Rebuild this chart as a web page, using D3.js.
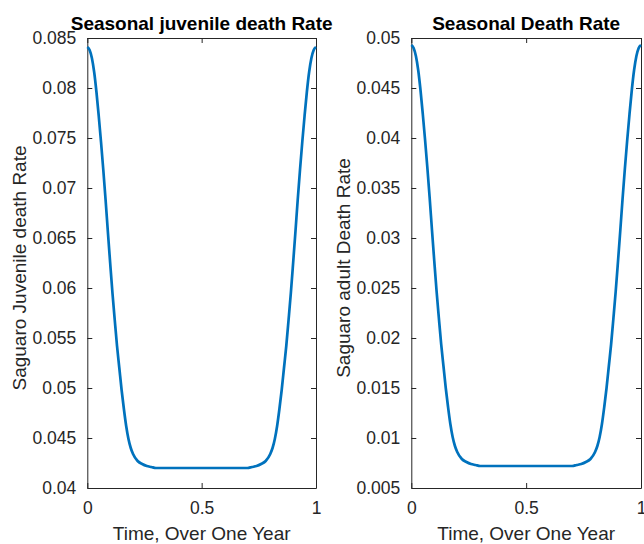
<!DOCTYPE html>
<html>
<head>
<meta charset="utf-8">
<script src="https://cdn.jsdelivr.net/npm/d3@7"></script>
<style>
  body { margin: 0; background: #fff; }
  svg { display: block; font-family: "Liberation Sans", Arial, Helvetica, sans-serif; }
  .axis path, .axis line { stroke: #262626; }
  .axis text { fill: #262626; font-size: 17.5px; }
</style>
</head>
<body>
<svg id="chart" width="644" height="544"></svg>
<script>
// time over one year
const time = [0, 0.01, 0.02, 0.03, 0.04, 0.05, 0.06, 0.07, 0.08, 0.09, 0.10, 0.11, 0.12, 0.13, 0.14,
  0.15, 0.16, 0.17, 0.18, 0.19, 0.20, 0.22, 0.24, 0.26, 0.28, 0.30, 0.35, 0.40, 0.45, 0.50,
  0.55, 0.60, 0.65, 0.70, 0.72, 0.74, 0.76, 0.78, 0.80, 0.81, 0.82, 0.83, 0.84, 0.85, 0.86,
  0.87, 0.88, 0.89, 0.90, 0.91, 0.92, 0.93, 0.94, 0.95, 0.96, 0.97, 0.98, 0.99, 1.00];

const juvenileRate = [0.0841, 0.0838, 0.0830, 0.0816, 0.0796, 0.0772, 0.0746, 0.0718, 0.0688, 0.0656,
  0.0625, 0.0595, 0.0568, 0.0542, 0.0520, 0.0498, 0.0479, 0.0462, 0.0449, 0.0440, 0.0434, 0.0427,
  0.0424, 0.0422, 0.0421, 0.0420, 0.0420, 0.0420, 0.0420, 0.0420,
  0.0420, 0.0420, 0.0420, 0.0420, 0.0421, 0.0422, 0.0424, 0.0427, 0.0434, 0.0440, 0.0449, 0.0462,
  0.0479, 0.0498, 0.0520, 0.0542, 0.0568, 0.0595, 0.0625, 0.0656, 0.0688, 0.0718, 0.0746, 0.0772,
  0.0796, 0.0816, 0.0830, 0.0838, 0.0841];

const adultRate = [0.0493, 0.0490, 0.0482, 0.0468, 0.0448, 0.0424, 0.0398, 0.0370, 0.0340, 0.0308,
  0.0277, 0.0247, 0.0220, 0.0194, 0.0172, 0.0150, 0.0131, 0.0114, 0.0101, 0.0092, 0.0086, 0.0079,
  0.0076, 0.0074, 0.0073, 0.0072, 0.0072, 0.0072, 0.0072, 0.0072,
  0.0072, 0.0072, 0.0072, 0.0072, 0.0073, 0.0074, 0.0076, 0.0079, 0.0086, 0.0092, 0.0101, 0.0114,
  0.0131, 0.0150, 0.0172, 0.0194, 0.0220, 0.0247, 0.0277, 0.0308, 0.0340, 0.0370, 0.0398, 0.0424,
  0.0448, 0.0468, 0.0482, 0.0490, 0.0493];

const xTicks = [0, 0.5, 1];
const xTickLabels = ['0', '0.5', '1'];

const panels = [
  { title: 'Seasonal juvenile death Rate', ylabel: 'Saguaro Juvenile death Rate',
    values: juvenileRate, ydomain: [0.04, 0.085], left: 87.3, right: 316 },
  { title: 'Seasonal Death Rate', ylabel: 'Saguaro adult Death Rate',
    values: adultRate, ydomain: [0.005, 0.05], left: 411.3, right: 641 }
];

const TOP = 38, BOTTOM = 488, TICK = 5;
const svg = d3.select('#chart');

panels.forEach(p => {
  const x = d3.scaleLinear().domain([0, 1]).range([p.left, p.right]);
  const y = d3.scaleLinear().domain(p.ydomain).range([BOTTOM, TOP]);
  const g = svg.append('g');

  // box + ticks on all four sides, pointing inward
  g.append('g').attr('class', 'axis').attr('transform', `translate(0,${BOTTOM})`)
    .call(d3.axisBottom(x).tickValues(xTicks).tickFormat((d, i) => xTickLabels[i])
      .tickSize(-TICK).tickSizeOuter(0).tickPadding(14));
  g.append('g').attr('class', 'axis').attr('transform', `translate(0,${TOP})`)
    .call(d3.axisTop(x).tickValues(xTicks).tickFormat('').tickSize(-TICK).tickSizeOuter(0));
  g.append('g').attr('class', 'axis').attr('transform', `translate(${p.left},0)`)
    .call(d3.axisLeft(y).ticks(10).tickFormat(d3.format('~g'))
      .tickSize(-TICK).tickSizeOuter(0).tickPadding(11));
  g.append('g').attr('class', 'axis').attr('transform', `translate(${p.right},0)`)
    .call(d3.axisRight(y).ticks(10).tickFormat('').tickSize(-TICK).tickSizeOuter(0));
  g.selectAll('.axis path').attr('stroke-width', 1);
  g.selectAll('.axis line').attr('stroke-width', 1);

  const line = d3.line()
    .x((d, i) => x(time[i]))
    .y(d => y(d))
    .curve(d3.curveMonotoneX);

  g.append('path')
    .datum(p.values)
    .attr('fill', 'none')
    .attr('stroke', '#0072BD')
    .attr('stroke-width', 2.7)
    .attr('stroke-linejoin', 'round')
    .attr('d', line);

  const cx = (p.left + p.right) / 2;
  g.append('text')
    .attr('x', cx).attr('y', 30)
    .attr('text-anchor', 'middle')
    .style('font-size', '19px').style('font-weight', 'bold')
    .text(p.title);

  g.append('text')
    .attr('x', cx).attr('y', 540)
    .attr('text-anchor', 'middle')
    .attr('fill', '#262626')
    .style('font-size', '19px')
    .text('Time, Over One Year');

  g.append('text')
    .attr('transform', `translate(${p.left - 61},${(TOP + BOTTOM) / 2 + 5}) rotate(-90)`)
    .attr('text-anchor', 'middle')
    .attr('fill', '#262626')
    .style('font-size', '19px')
    .text(p.ylabel);
});
</script>
</body>
</html>
